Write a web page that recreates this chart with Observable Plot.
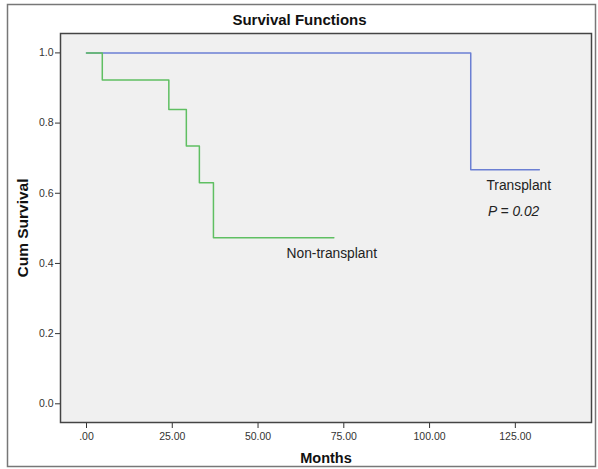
<!DOCTYPE html>
<html>
<head>
<meta charset="utf-8">
<script src="https://cdn.jsdelivr.net/npm/d3@7"></script>
<script src="https://cdn.jsdelivr.net/npm/@observablehq/plot@0.6"></script>
<style>
  html, body { margin: 0; padding: 0; background: #fff; }
  #chart { width: 598px; height: 469px; }
  svg { font-family: "Liberation Sans", Arial, sans-serif; }
</style>
</head>
<body>
<div id="chart"></div>
<script>
const transplantMonths = [0, 112, 132];
const transplantSurvival = [1.0, 0.667, 0.667];
const nonTransplantMonths = [0, 4.6, 24.0, 29.1, 32.9, 37.0, 72.1];
const nonTransplantSurvival = [1.0, 0.923, 0.839, 0.735, 0.630, 0.473, 0.473];
const xTicks = [0, 25, 50, 75, 100, 125];
const yTicks = [0, 0.2, 0.4, 0.6, 0.8, 1.0];
const labels = [
  {name: "Transplant", x: 126, y: 0.623, italic: false},
  {name: "P = 0.02", x: 124.5, y: 0.549, italic: true},
  {name: "Non-transplant", x: 71.5, y: 0.429, italic: false}
];

const transplant = transplantMonths.map((m, i) => ({m, s: transplantSurvival[i]}));
const nonTransplant = nonTransplantMonths.map((m, i) => ({m, s: nonTransplantSurvival[i]}));
const xFmt = d => d === 0 ? ".00" : d3.format(".2f")(d);

const plot = Plot.plot({
  width: 598,
  height: 469,
  marginLeft: 60,
  marginTop: 33,
  marginRight: 7,
  marginBottom: 47,
  style: {background: "#fff", fontFamily: "Liberation Sans, Arial, sans-serif"},
  x: {domain: [-7.58, 147.2], ticks: xTicks, tickFormat: xFmt, label: null},
  y: {domain: [-0.0533, 1.0553], ticks: yTicks, tickFormat: d3.format(".1f"), label: null},
  marks: [
    Plot.frame({fill: "#f0f0f0", stroke: null}),
    Plot.axisX({ticks: xTicks, tickFormat: xFmt, tickSize: 6, tickPadding: 4, fontSize: 10.5, color: "#333", label: null}),
    Plot.axisY({ticks: yTicks, tickFormat: d3.format(".1f"), tickSize: 5, tickPadding: 2, fontSize: 10.5, color: "#333", label: null}),
    Plot.line(transplant, {x: "m", y: "s", curve: "step-after", stroke: "#6b7fd3", strokeWidth: 1.5}),
    Plot.line(nonTransplant, {x: "m", y: "s", curve: "step-after", stroke: "#5fbf62", strokeWidth: 1.5}),
    Plot.text(labels.filter(d => !d.italic), {x: "x", y: "y", text: "name", fontSize: 13.8, fill: "#222"}),
    Plot.text(labels.filter(d => d.italic), {x: "x", y: "y", text: "name", fontSize: 13.8, fill: "#222", fontStyle: "italic"}),
    Plot.frame({stroke: "#444", strokeWidth: 1.5}),
    Plot.text(["Survival Functions"], {frameAnchor: "top", lineAnchor: "middle", dx: -26.5, dy: -13, fontSize: 15, fontWeight: "bold", fill: "#111"}),
    Plot.text(["Months"], {frameAnchor: "bottom", lineAnchor: "middle", dy: 36, fontSize: 14.5, fontWeight: "bold", fill: "#111"}),
    Plot.text(["Cum Survival"], {frameAnchor: "left", textAnchor: "middle", lineAnchor: "middle", dx: -37, rotate: -90, fontSize: 15.5, fontWeight: "bold", fill: "#111"})
  ]
});
document.getElementById("chart").appendChild(plot);
d3.select(plot).append("rect")
  .attr("x", 7.5).attr("y", 4.5).attr("width", 588).attr("height", 462)
  .attr("fill", "none").attr("stroke", "#777").attr("stroke-width", 1.5);
</script>
</body>
</html>
